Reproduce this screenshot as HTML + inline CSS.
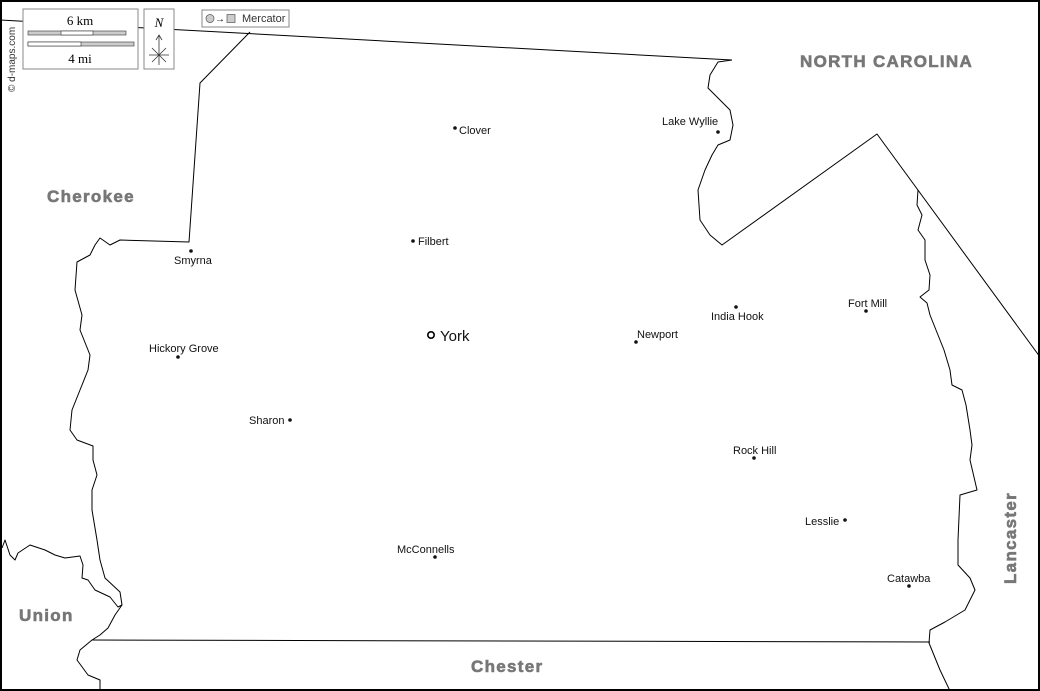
<!DOCTYPE html>
<html><head><meta charset="utf-8"><style>
body{margin:0;background:#fff}
svg{display:block}
text{font-family:"Liberation Sans",Arial,sans-serif}
text.s{font-family:"Liberation Serif",serif}
.c{font-size:11px;fill:#111}
.r{font-size:17px;font-weight:bold;fill:#777;stroke:#777;stroke-width:.6;letter-spacing:1.3px}
</style></head><body>
<svg width="1040" height="691" viewBox="0 0 1040 691" xmlns="http://www.w3.org/2000/svg">
<rect x="1" y="1" width="1038" height="689" fill="#fff" stroke="#000" stroke-width="2"/>
<g fill="none" stroke="#000" stroke-width="1" stroke-linejoin="round">
<polyline points="0,20 732,60"/>
<polyline points="732,60 718,62 710,75 708,88 720,100 730,110 733,125 730,140 718,145 712,155 705,170 698,190 700,220 710,235 722,245 877,134 1040,357"/>
<polyline points="918,190 917,205 922,215 918,230 925,240 925,260 930,275 929,290 920,297 927,303 930,315 940,340 944,350 950,370 952,385 962,390 966,405 970,430 972,445 970,460 977,490 960,495 958,540 958,565 970,578 975,590 965,610 945,622 930,630 929,643 940,670 950,691"/>
<polyline points="92,640 930,642"/>
<polyline points="250,32 200,83 189,242 120,240 110,245 100,238 95,245 90,255 77,262 75,290 82,315 80,330 90,355 88,370 80,390 72,410 70,430 77,440 93,446 93,460 97,475 92,490 92,510 97,540 100,560 105,578 120,592 122,605 115,615 108,628 100,635 92,640 80,650 77,660 88,675 100,680 100,691"/>
<polyline points="2,548 5,540 10,555 15,560 18,553 30,545 45,550 55,555 65,558 80,556 83,565 82,578 88,580 95,590 110,597 118,607 122,605"/>
</g>
<rect x="23" y="9" width="115" height="60" fill="#fff" stroke="#888"/>
<text class="s" x="80" y="25" font-size="13" text-anchor="middle">6 km</text>
<rect x="28" y="31" width="98" height="4" fill="#ccc" stroke="#333" stroke-width=".6"/>
<rect x="61" y="31" width="32" height="4" fill="#fff" stroke="#333" stroke-width=".6"/>
<rect x="28" y="42" width="106" height="4" fill="#ccc" stroke="#333" stroke-width=".6"/>
<rect x="28" y="42" width="53" height="4" fill="#fff" stroke="#333" stroke-width=".6"/>
<text class="s" x="80" y="63" font-size="13" text-anchor="middle">4 mi</text>
<rect x="144" y="9" width="30" height="60" fill="#fff" stroke="#888"/>
<text class="s" x="159" y="27" font-size="13" font-style="italic" text-anchor="middle">N</text>
<g stroke="#333" stroke-width=".8"><line x1="159" y1="35" x2="159" y2="65"/><line x1="149" y1="55" x2="169" y2="55"/><line x1="152" y1="48" x2="166" y2="62"/><line x1="166" y1="48" x2="152" y2="62"/><polyline points="156,40 159,35 162,40" fill="none"/></g>
<rect x="202" y="10" width="87" height="17" fill="#fff" stroke="#888"/>
<circle cx="210" cy="18.5" r="4" fill="#ccc" stroke="#555" stroke-width=".7"/>
<text x="215" y="22" font-size="10">→</text>
<rect x="227" y="14.5" width="8" height="8" fill="#ccc" stroke="#555" stroke-width=".7"/>
<text x="242" y="22" font-size="11" fill="#333">Mercator</text>
<text transform="translate(15,92) rotate(-90)" font-size="10" fill="#333">© d-maps.com</text>
<text class="r" x="800" y="67">NORTH CAROLINA</text>
<text class="r" x="47" y="202">Cherokee</text>
<text class="r" x="19" y="621">Union</text>
<text class="r" x="471" y="672">Chester</text>
<text class="r" transform="translate(1016,584) rotate(-90)">Lancaster</text>
<g fill="#111">
<circle cx="455" cy="128" r="1.8"/><circle cx="718" cy="132" r="1.8"/><circle cx="413" cy="241" r="1.8"/>
<circle cx="191" cy="251" r="1.8"/><circle cx="736" cy="307" r="1.8"/><circle cx="866" cy="311" r="1.8"/>
<circle cx="636" cy="342" r="1.8"/><circle cx="178" cy="357" r="1.8"/><circle cx="290" cy="420" r="1.8"/>
<circle cx="754" cy="458" r="1.8"/><circle cx="845" cy="520" r="1.8"/><circle cx="435" cy="557" r="1.8"/>
<circle cx="909" cy="586" r="1.8"/>
</g>
<circle cx="431" cy="335" r="3.2" fill="none" stroke="#000" stroke-width="1.6"/>
<text x="440" y="341" font-size="15" fill="#111">York</text>
<text class="c" x="459" y="134">Clover</text>
<text class="c" x="662" y="125">Lake Wyllie</text>
<text class="c" x="418" y="245">Filbert</text>
<text class="c" x="174" y="264">Smyrna</text>
<text class="c" x="711" y="320">India Hook</text>
<text class="c" x="848" y="307">Fort Mill</text>
<text class="c" x="637" y="338">Newport</text>
<text class="c" x="149" y="352">Hickory Grove</text>
<text class="c" x="249" y="424">Sharon</text>
<text class="c" x="733" y="454">Rock Hill</text>
<text class="c" x="805" y="525">Lesslie</text>
<text class="c" x="397" y="553">McConnells</text>
<text class="c" x="887" y="582">Catawba</text>
</svg>
</body></html>
